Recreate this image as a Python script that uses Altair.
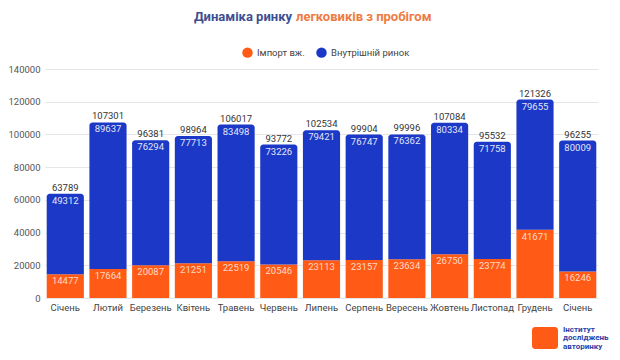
import altair as alt
import pandas as pd

months = ["Січень", "Лютий", "Березень", "Квітень", "Травень", "Червень", "Липень",
          "Серпень", "Вересень", "Жовтень", "Листопад", "Грудень", "Січень"]
imports = [14477, 17664, 20087, 21251, 22519, 20546, 23113, 23157, 23634, 26750, 23774, 41671, 16246]
domestic = [49312, 89637, 76294, 77713, 83498, 73226, 79421, 76747, 76362, 80334, 71758, 79655, 80009]
totals = [63789, 107301, 96381, 98964, 106017, 93772, 102534, 99904, 99996, 107084, 95532, 121326, 96255]
series_names = ["Імпорт вж.", "Внутрішній ринок"]
y_ticks = [0, 20000, 40000, 60000, 80000, 100000, 120000, 140000]

ORANGE = "#FF5B17"
BLUE = "#1B39C6"
FONT = "Roboto"

df = pd.DataFrame({
    "idx": list(range(len(months))),
    "imp": imports,
    "dom": domestic,
    "tot": totals,
})

label_arr = "[" + ",".join("'" + m + "'" for m in months) + "]"

x_enc = alt.X("idx:O", title=None,
              scale=alt.Scale(paddingInner=0.13, paddingOuter=0.04),
              axis=alt.Axis(labelExpr=label_arr + "[datum.value]", labelAngle=0,
                            ticks=False, domain=False, labelPadding=4,
                            labelFontSize=9.5, labelColor="#444444", labelFont=FONT))
y_scale = alt.Scale(domain=[0, 140000], nice=False)
y_axis = alt.Axis(values=y_ticks, format="d", ticks=False, domain=False, labelPadding=5,
                  labelOverlap=False, labelFontSize=9.5, labelColor="#555555",
                  labelFont=FONT, gridColor="#E6E6E6", title=None)
color_scale = alt.Scale(domain=series_names, range=[ORANGE, BLUE])


def yq(field):
    return alt.Y(field, scale=y_scale, axis=y_axis, title=None)


base = alt.Chart(df)

orange_bars = base.transform_calculate(series="'Імпорт вж.'").mark_bar().encode(
    x=x_enc,
    y=yq("imp:Q"),
    color=alt.Color("series:N", scale=color_scale,
                    legend=alt.Legend(title=None, orient="none", direction="horizontal",
                                      legendX=197, legendY=-22, symbolType="circle",
                                      symbolSize=110, symbolStrokeWidth=0,
                                      labelFontSize=9.5, labelFont=FONT, labelColor="#444444",
                                      columnPadding=11, padding=0)),
)

blue_bars = base.transform_calculate(series="'Внутрішній ринок'").mark_bar(
    cornerRadiusTopLeft=3, cornerRadiusTopRight=3).encode(
    x=x_enc,
    y=yq("tot:Q"),
    y2="imp:Q",
    color=alt.Color("series:N", scale=color_scale),
)

tot_text = base.mark_text(baseline="bottom", dy=-1, fontSize=9.5, font=FONT, color="#333333").encode(
    x=x_enc, y=yq("tot:Q"), text=alt.Text("tot:Q", format="d"))
dom_text = base.mark_text(baseline="top", dy=2, fontSize=9.5, font=FONT, color="#E3E6F7").encode(
    x=x_enc, y=yq("tot:Q"), text=alt.Text("dom:Q", format="d"))
imp_text = base.mark_text(baseline="top", dy=2, fontSize=9.5, font=FONT, color="#FFD9C6").encode(
    x=x_enc, y=yq("imp:Q"), text=alt.Text("imp:Q", format="d"))

title1 = alt.Chart(pd.DataFrame({"t": ["Динаміка ринку"]})).mark_text(
    align="right", baseline="middle", fontSize=13, fontWeight="bold", font=FONT, color="#3E4E93"
).encode(x=alt.value(247), y=alt.value(-52), text="t:N")
title2 = alt.Chart(pd.DataFrame({"t": ["легковиків з пробігом"]})).mark_text(
    align="left", baseline="middle", fontSize=13, fontWeight="bold", font=FONT, color="#EE7B42"
).encode(x=alt.value(251), y=alt.value(-52), text="t:N")

logo_rect = alt.Chart(pd.DataFrame({"a": [1]})).mark_rect(color=ORANGE, cornerRadius=3).encode(
    x=alt.value(487), x2=alt.value(513), y=alt.value(258), y2=alt.value(280))
logo_lines = ["Інститут", "досліджень", "авторинку"]
logo_layers = []
for i, line in enumerate(logo_lines):
    logo_layers.append(
        alt.Chart(pd.DataFrame({"t": [line]})).mark_text(
            align="left", baseline="middle", fontSize=8, fontWeight="bold", font=FONT, color="#2B3FA8"
        ).encode(x=alt.value(518), y=alt.value(261 + 8.3 * i), text="t:N")
    )

chart = alt.layer(orange_bars, blue_bars, tot_text, dom_text, imp_text,
                  title1, title2, logo_rect, *logo_layers).properties(
    width=553, height=229,
    autosize="none",
    padding={"left": 37, "top": 61, "right": 14, "bottom": 54},
).configure_view(stroke=None).configure_axis(labelFont=FONT)

chart.save("out.html", embed_options={"renderer": "svg", "actions": False})
